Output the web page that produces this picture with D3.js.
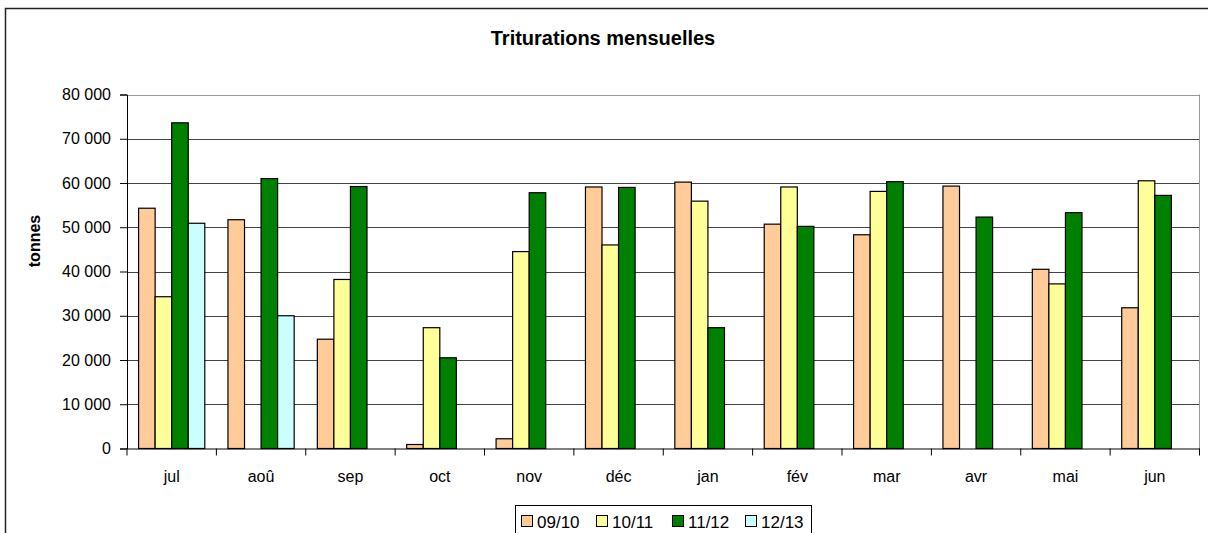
<!DOCTYPE html>
<html><head><meta charset="utf-8">
<script src="https://cdn.jsdelivr.net/npm/d3@7"></script>
<style>
html,body{margin:0;padding:0;background:#fff;}
svg text{font-family:"Liberation Sans",Arial,sans-serif;fill:#000;}
</style></head>
<body><svg id="c" width="1208" height="533"></svg>
<script>
const months = ["jul","aoû","sep","oct","nov","déc","jan","fév","mar","avr","mai","jun"];
const seriesNames = ["09/10","10/11","11/12","12/13"];
const seriesColors = ["#FFCC99","#FFFF99","#008000","#CCFFFF"];
const s0910 = [54300,51700,24700,900,2200,59100,60200,50700,48300,59300,40500,31800];
const s1011 = [34300,null,38200,27300,44500,46000,55900,59100,58100,null,37200,60500];
const s1112 = [73600,61000,59200,20500,57800,59000,27300,50200,60300,52300,53300,57200];
const s1213 = [50900,30000,null,null,null,null,null,null,null,null,null,null];
const yTicks = [0,10000,20000,30000,40000,50000,60000,70000,80000];
const titleText = "Triturations mensuelles";
const yLabel = "tonnes";

const allSeries = [s0910,s1011,s1112,s1213];
const svg = d3.select("#c");
const L=127, R=1199.5, T=94.5, B=448.5;

// outer frame
svg.append("rect").attr("x",5.5).attr("y",8.5).attr("width",1210).attr("height",540)
  .attr("fill","#fff").attr("stroke","#222").attr("stroke-width",1.5);

const x = d3.scaleBand().domain(months).range([L,R]).paddingInner(0).paddingOuter(0);
const xs = d3.scaleBand().domain(seriesNames).range([0,x.bandwidth()]).paddingInner(0).paddingOuter(0.7);
const y = d3.scaleLinear().domain([0,80000]).range([B,T]);

// gridlines
svg.append("g").selectAll("line").data(yTicks.filter(v=>v>0)).join("line")
  .attr("x1",L).attr("x2",R).attr("y1",d=>Math.round(y(d))+0.5).attr("y2",d=>Math.round(y(d))+0.5)
  .attr("stroke",d=>d===80000?"#999":"#444").attr("stroke-width",1);
// right plot border
svg.append("line").attr("x1",R).attr("x2",R).attr("y1",T).attr("y2",B).attr("stroke","#999");

// bars
const data = [];
months.forEach((m,i)=>allSeries.forEach((s,j)=>{ if(s[i]!=null) data.push({m,k:seriesNames[j],v:s[i],c:seriesColors[j]}); }));
svg.append("g").selectAll("rect").data(data).join("rect")
  .attr("x",d=>x(d.m)+xs(d.k)).attr("width",xs.bandwidth())
  .attr("y",d=>y(d.v)).attr("height",d=>y(0)-y(d.v))
  .attr("fill",d=>d.c).attr("stroke","#000").attr("stroke-width",1.2);

// y axis
const fmt = v=>d3.format(",")(v).replace(/,/g," ");
const ya = svg.append("g").attr("transform",`translate(${L},0)`)
  .call(d3.axisLeft(y).tickValues(yTicks).tickFormat(fmt).tickSize(7).tickPadding(9));
ya.select(".domain").attr("stroke","#000");
ya.selectAll(".tick line").attr("stroke","#000");
ya.selectAll("text").attr("font-size",16).attr("font-family","Liberation Sans, Arial").attr("fill","#000");

// x axis
const xa = svg.append("g").attr("transform",`translate(0,${B})`)
  .call(d3.axisBottom(x).tickSize(0).tickPadding(22));
xa.select(".domain").attr("stroke","#000");
xa.selectAll("text").attr("font-size",16).attr("font-family","Liberation Sans, Arial").attr("fill","#000");
// x tick marks at boundaries
svg.append("g").selectAll("line").data(months.concat(["end"])).join("line")
  .attr("x1",(d,i)=>L+i*x.step()).attr("x2",(d,i)=>L+i*x.step())
  .attr("y1",B).attr("y2",B+7).attr("stroke","#000");

// title
svg.append("text").attr("x",603).attr("y",45).attr("text-anchor","middle")
  .attr("font-size",20).attr("font-weight","bold").text(titleText);
// y label
svg.append("text").attr("transform","translate(40,241) rotate(-90)").attr("text-anchor","middle")
  .attr("font-size",16).attr("font-weight","bold").text(yLabel);

// legend
const lg = svg.append("g");
lg.append("rect").attr("x",515.5).attr("y",505.5).attr("width",296).attr("height",40)
  .attr("fill","#fff").attr("stroke","#000");
const lx = [521,596,672,745];
seriesNames.forEach((n,i)=>{
  lg.append("rect").attr("x",lx[i]+0.5).attr("y",515.5).attr("width",11).attr("height",11)
    .attr("fill",seriesColors[i]).attr("stroke","#000");
  lg.append("text").attr("x",lx[i]+16).attr("y",528).attr("font-size",17).text(n);
});
</script></body></html>
